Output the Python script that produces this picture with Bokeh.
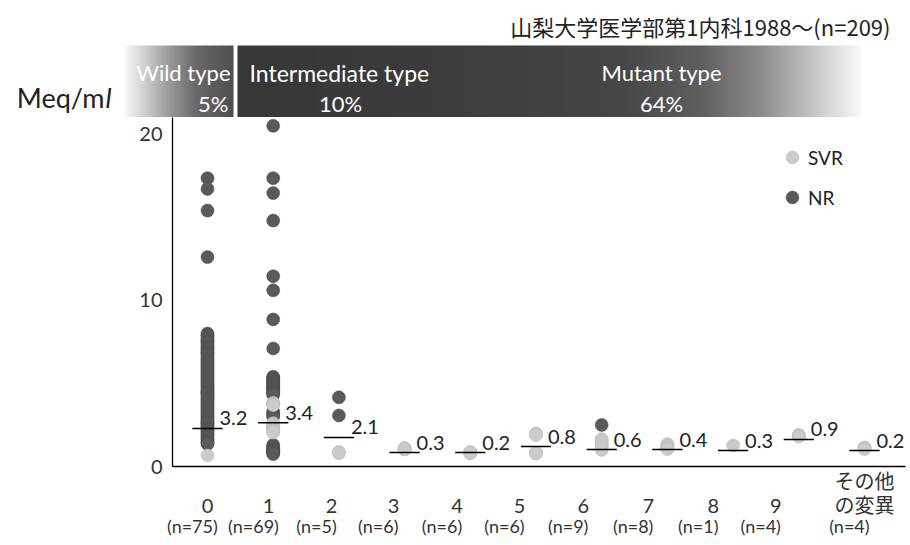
import numpy as np
from bokeh.plotting import figure
from bokeh.layouts import column
from bokeh.models import (Range1d, FixedTicker, Legend, LegendItem,
                          CustomJSTickFormatter, LinearAxis)
from bokeh.core.properties import value
from bokeh.embed import file_html
from bokeh.resources import INLINE

# ---------------- data ----------------
title_text = "山梨大学医学部第1内科1988～(n=209)"
unit_text = "Meq/m"
unit_suffix = "l"
bar_names = ["Wild type", "Intermediate type", "Mutant type"]
bar_percents = ["5%", "10%", "64%"]
group_labels = ["\n0", "\n1", "\n2", "\n3", "\n4", "\n5", "\n6", "\n7", "\n8", "\n9", "その他\nの変異"]
n_labels = ["(n=75)", "(n=69)", "(n=5)", "(n=6)", "(n=6)", "(n=6)", "(n=9)", "(n=8)", "(n=1)", "(n=4)", "(n=4)"]
mean_labels = ["3.2", "3.4", "2.1", "0.3", "0.2", "0.8", "0.6", "0.4", "0.3", "0.9", "0.2"]
bar_levels = [2.29, 2.64, 1.75, 0.84, 0.84, 1.2, 1.02, 1.02, 0.96, 1.63, 0.96]
legend_names = ["SVR", "NR"]
y_ticks = [0, 10, 20]

nr_values = [
    [17.35, 16.7, 15.4, 12.6,
     8.0, 7.9, 7.85, 7.7, 7.6, 7.5, 7.45, 7.3, 7.2, 7.1,
     7.0, 6.9, 6.8, 6.75, 6.6, 6.5, 6.4, 6.3, 6.2, 6.1,
     6.0, 5.9, 5.8, 5.7, 5.6, 5.5, 5.4, 5.3, 5.2, 5.1,
     5.0, 4.9, 4.8, 4.7, 4.6, 4.5, 4.45, 4.4, 4.3, 4.2, 4.1,
     4.0, 3.9, 3.8, 3.7, 3.6, 3.5, 3.4, 3.3, 3.2, 3.1,
     3.0, 2.9, 2.8, 2.7, 2.65, 2.6, 2.5, 2.4, 2.3, 2.2, 2.1,
     2.0, 1.9, 1.8, 1.7, 1.6, 1.5, 1.4, 1.35],
    [20.5, 17.35, 16.45, 14.8, 11.45, 10.6, 8.85, 7.1,
     5.4, 5.35, 5.3, 5.25, 5.2, 5.15, 5.1, 5.05, 5.0, 4.95, 4.9, 4.85,
     4.8, 4.75, 4.7, 4.65, 4.6, 4.55, 4.5, 4.45, 4.4, 4.3,
     3.3, 3.2, 3.1, 3.0,
     1.3, 1.2, 1.1, 1.05, 1.0, 0.95, 0.9, 0.88, 0.85, 0.8, 0.75],
    [4.16, 3.07],
    [], [], [],
    [2.5],
    [], [], [], [],
]
svr_values = [
    [0.66],
    [3.82, 3.8, 3.78, 3.75, 3.72, 3.7,
     2.6, 2.58, 2.55, 2.5, 2.48, 2.45, 2.4, 2.38, 2.35, 2.3, 2.28,
     2.25, 2.2, 2.18, 2.15, 2.12, 2.1, 2.05],
    [0.88, 0.84, 0.8],
    [1.1, 1.08, 1.05, 1.1, 1.02, 1.06],
    [0.86, 0.84, 0.82, 0.86, 0.8, 0.84],
    [2.0, 1.95, 1.9, 0.84, 0.8, 0.78],
    [1.65, 1.55, 1.45, 1.35, 1.25, 1.15, 1.1, 1.0],
    [1.35, 1.3, 1.25, 1.2, 1.15, 1.1, 1.1, 1.05],
    [1.27],
    [1.9, 1.87, 1.85, 1.8],
    [1.15, 1.1, 1.12, 1.05],
]

# ---------------- layout constants ----------------
PX = 65.7            # pixels between groups
G0 = 207             # page x of group 0
FRAME_L, FRAME_R = 172, 905
HDR_H = 117
label_pos = [0, 0.93, 1.89, 2.83, 3.8, 4.75, 5.72, 6.71, 7.7, 8.65, 10.0]
n_shift = 0.23
FONT = "Lato"
CJK = "Noto Sans CJK JP"

# ---------------- header (title + type bar) ----------------
hdr = figure(width=909, height=HDR_H, x_range=Range1d(0, 909), y_range=Range1d(0, HDR_H),
             output_backend="svg", toolbar_location=None, min_border=0,
             x_axis_location=None, y_axis_location=None, frame_align=False)
hdr.outline_line_color = None
hdr.grid.visible = False
hdr.background_fill_color = "white"

bar_px = np.arange(125, 861)
stops_x = [125, 140, 165, 195, 232, 233, 236, 237, 430, 620, 700, 760, 810, 860]
stops_g = [245, 215, 160, 105, 80, 255, 255, 55, 60, 70, 95, 140, 195, 250]
g = np.interp(bar_px, stops_x, stops_g).astype(np.uint8)
img = np.empty((1, len(bar_px)), dtype=np.uint32)
view = img.view(dtype=np.uint8).reshape((1, len(bar_px), 4))
view[0, :, 0] = g
view[0, :, 1] = g
view[0, :, 2] = g
view[0, :, 3] = 255
hdr.image_rgba(image=[img], x=125, y=0, dw=len(bar_px), dh=72)

bar_font = dict(text_font=value(FONT), text_font_size="22px", text_color="white",
                text_baseline="middle")
hdr.text(x=[230], y=[45], text=[bar_names[0]], text_align="right", **bar_font)
hdr.text(x=[228], y=[14], text=[bar_percents[0]], text_align="right", **bar_font)
hdr.text(x=[249], y=[45], text=[bar_names[1]], text_align="left",
         text_font=value(FONT), text_font_size="23px", text_color="white", text_baseline="middle")
hdr.text(x=[340], y=[14], text=[bar_percents[1]], text_align="center", **bar_font)
hdr.text(x=[661], y=[45], text=[bar_names[2]], text_align="center", **bar_font)
hdr.text(x=[661], y=[14], text=[bar_percents[2]], text_align="center", **bar_font)

hdr.text(x=[890], y=[92], text=[title_text], text_align="right", text_baseline="middle",
         text_font=value(CJK), text_font_size="22px", text_color="#222")
hdr.text(x=[104], y=[20], text=[unit_text], text_align="right", text_baseline="middle",
         text_font=value(FONT), text_font_size="27px", text_color="#222")
hdr.text(x=[105], y=[20], text=[unit_suffix], text_align="left", text_baseline="middle",
         text_font=value(FONT), text_font_size="27px", text_font_style="italic",
         text_color="#222")

# ---------------- main plot ----------------
p = figure(frame_width=FRAME_R - FRAME_L, frame_height=349,
           x_range=Range1d((FRAME_L - G0) / PX, (FRAME_R - G0) / PX),
           y_range=Range1d(0, 21.0),
           output_backend="svg", toolbar_location=None,
           min_border_left=FRAME_L, min_border_right=4, min_border_top=0, min_border_bottom=74,
           x_axis_location=None, frame_align=False)
p.outline_line_color = None
p.grid.visible = False

p.yaxis.ticker = FixedTicker(ticks=y_ticks)
p.yaxis.major_tick_in = 0
p.yaxis.major_tick_out = 0
p.yaxis.minor_tick_line_color = None
p.yaxis.axis_line_color = "black"
p.yaxis.axis_line_width = 1.3
p.yaxis.major_label_text_font = FONT
p.yaxis.major_label_text_font_size = "20px"
p.yaxis.major_label_text_color = "#333"
p.yaxis.major_label_standoff = 10

fmt_code = """
let best = 0, d = 1e9;
for (let i = 0; i < pos.length; i++) {
  const e = Math.abs(pos[i] - tick);
  if (e < d) { d = e; best = i; }
}
return txt[best];
"""
ax1 = LinearAxis(ticker=FixedTicker(ticks=label_pos),
                 formatter=CustomJSTickFormatter(args=dict(pos=label_pos, txt=group_labels), code=fmt_code))
ax1.axis_line_color = "black"
ax1.axis_line_width = 1.3
ax1.major_tick_in = 0
ax1.major_tick_out = 0
ax1.major_tick_line_color = None
ax1.minor_tick_line_color = None
ax1.major_label_standoff = 2
ax1.major_label_text_line_height = 1.0
ax1.major_label_text_font = "Lato, 'Noto Sans CJK JP'"
ax1.major_label_text_font_size = "20px"
ax1.major_label_text_color = "#333"
p.add_layout(ax1, "below")

n_pos = [t - n_shift for t in label_pos]
ax2 = LinearAxis(ticker=FixedTicker(ticks=n_pos),
                 formatter=CustomJSTickFormatter(args=dict(pos=n_pos, txt=n_labels), code=fmt_code))
ax2.axis_line_color = None
ax2.major_tick_in = 0
ax2.major_tick_out = 0
ax2.major_tick_line_color = None
ax2.minor_tick_line_color = None
ax2.major_label_standoff = -5
ax2.major_label_text_font = FONT
ax2.major_label_text_font_size = "18px"
ax2.major_label_text_color = "#333"
p.add_layout(ax2, "below")

nr_x = [i for i, vals in enumerate(nr_values) for _ in vals]
nr_y = [v for vals in nr_values for v in vals]
svr_x = [i for i, vals in enumerate(svr_values) for _ in vals]
svr_y = [v for vals in svr_values for v in vals]

r_nr = p.scatter(nr_x, nr_y, size=13, fill_color="#5a5a5a", line_color="#4a4a4a", line_width=0.5)
r_svr = p.scatter(svr_x, svr_y, size=13, fill_color="#cbcbcb", line_color="#bdbdbd", line_width=0.5)

idx = np.arange(len(group_labels))
p.segment(x0=idx - 0.23, y0=bar_levels, x1=idx + 0.23, y1=bar_levels,
          line_color="black", line_width=1.5)
p.text(x=idx, y=bar_levels, text=mean_labels, x_offset=12, y_offset=-3,
       text_baseline="bottom", text_align="left", text_font=value(FONT),
       text_font_size="20px", text_color="#222")

legend = Legend(items=[LegendItem(label=legend_names[0], renderers=[r_svr]),
                       LegendItem(label=legend_names[1], renderers=[r_nr])],
                location=(604, 253), orientation="vertical",
                glyph_width=32, glyph_height=32, spacing=8, padding=0, margin=0,
                label_standoff=0, border_line_color=None, background_fill_alpha=0,
                label_text_font=FONT, label_text_font_size="19px", label_text_color="#222")
p.add_layout(legend)

layout = column(hdr, p, spacing=0)
open("out.html", "w").write(file_html(layout, INLINE))
